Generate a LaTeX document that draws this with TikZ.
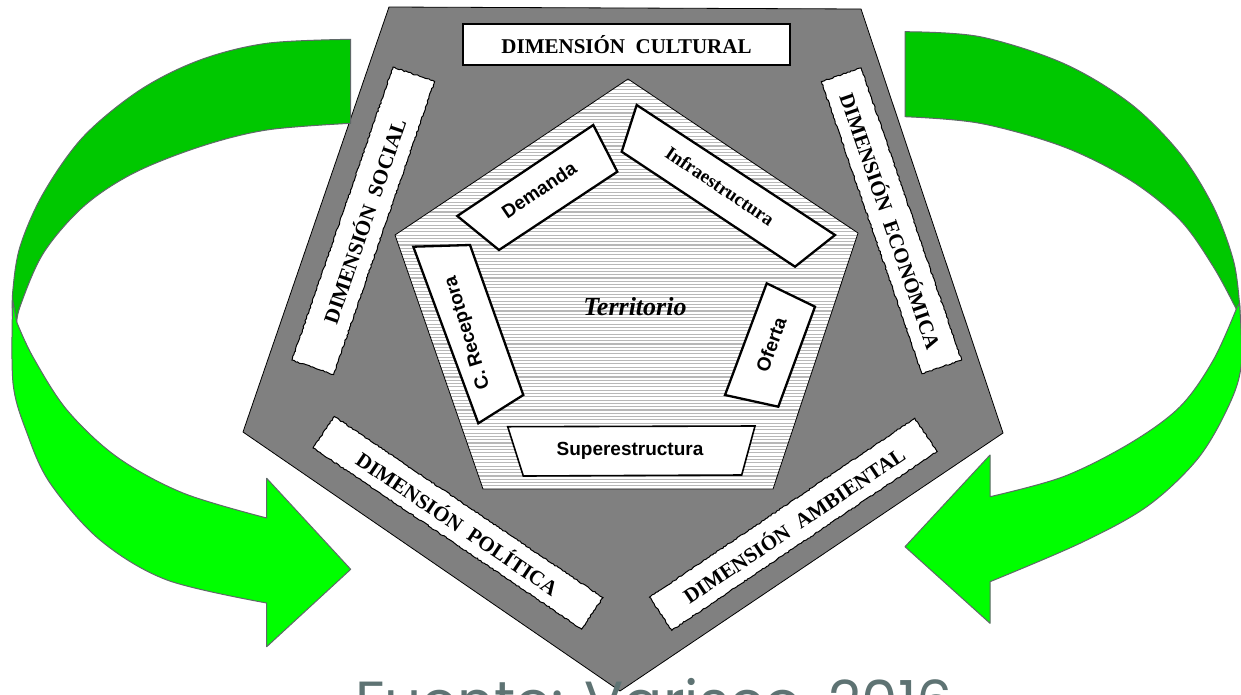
\documentclass[tikz,border=0pt]{standalone}
\usepackage{fontspec}
\setmainfont{Liberation Serif}
\newfontfamily\lsans{Liberation Sans}
\newfontfamily\popfont{Poppins}
\usetikzlibrary{decorations.pathmorphing}
\definecolor{pentgray}{HTML}{808080}
\definecolor{darkgreen}{HTML}{00C800}
\definecolor{brightgreen}{HTML}{00FF00}
\definecolor{arrowline}{HTML}{5F6868}
\definecolor{hatchgray}{HTML}{B8B8B8}
\definecolor{srccolor}{HTML}{5E7373}
\begin{document}
\begin{tikzpicture}[x=1pt,y=-1pt,
  band/.style={draw=arrowline, line width=1pt, line join=round},
  dimlabel/.style={fill=white, draw=black, line width=1pt, decorate,
    decoration={random steps, segment length=2pt, amplitude=0.6pt},
    inner sep=0pt, font=\fontsize{21}{21}\selectfont\bfseries},
  innerbox/.style={fill=white, draw=black, line width=2.3pt, line join=miter},
  innertext/.style={inner sep=0pt, font=\lsans\bfseries\fontsize{19}{19}\selectfont},
  hatch/.style={draw=hatchgray, line width=1.1pt}]
\useasboundingbox (0,0) rectangle (1241,694);
\fill[white] (0,0) rectangle (1241,694);

% outer gray pentagon
\draw[fill=pentgray, draw=black, line width=0.8pt, line join=miter]
  (389,7) -- (861,9) -- (1003,433) -- (620,691) -- (243,432) -- cycle;

% inner hatched pentagon
\fill[white] (628,79) -- (858,233) -- (773,489) -- (483,489) -- (395,235) -- cycle;
\begin{scope}
  \clip (628,79) -- (858,233) -- (773,489) -- (483,489) -- (395,235) -- cycle;
  \foreach \yy in {80,83.3,...,492} \draw[hatch] (390,\yy) -- (862,\yy);
\end{scope}
\draw[black, line width=0.8pt, line join=miter]
  (628,79) -- (858,233) -- (773,489) -- (483,489) -- (395,235) -- cycle;

% inner boxes
\draw[innerbox] (457.3,216) -- (593.3,125) -- (617.3,171.7) -- (499,250) -- cycle;
\draw[innerbox] (636.7,105) -- (835,235) -- (795,266.7) -- (621.7,151.7) -- cycle;
\draw[innerbox] (413.3,246.7) -- (470,245) -- (523.3,395) -- (478.3,423.3) -- cycle;
\draw[innerbox] (766.7,283.3) -- (815,306.7) -- (778.3,406.7) -- (725,395) -- cycle;
\draw[innerbox, line width=1.6pt] (507.7,426.7) -- (755,426) -- (741.7,475) -- (523.3,476) -- cycle;

\node[innertext, rotate=34] (demanda) at (539,190) {Demanda};
\node[innertext, rotate=-34, font=\bfseries\fontsize{19}{19}\selectfont] (infra) at (720,186) {Infraestructura};
\node[innertext, rotate=107] (receptora) at (468,333) {C. Receptora};
\node[innertext, rotate=70] (oferta) at (771,345) {Oferta};
\node[innertext] (supra) at (630,451) {Superestructura};
\node[inner sep=0pt, font=\bfseries\itshape\fontsize{26}{26}\selectfont] (territorio) at (635,307) {Territorio};

% outer dimension labels
\node[fill=white, draw=black, line width=1.8pt, inner sep=0pt, minimum width=327pt, minimum height=41pt,
  font=\fontsize{21}{21}\selectfont\bfseries] (cultural) at (626.5,44.5) {DIMENSIÓN\ \ CULTURAL};
\node[dimlabel, rotate=71, minimum width=310pt, minimum height=44pt] (social) at (363.3,220.8) {DIMENSIÓN\ \ SOCIAL};
\node[dimlabel, rotate=-71, minimum width=309pt, minimum height=42pt] (economica) at (891.5,220.8) {DIMENSIÓN\ \ ECONÓMICA};
\node[dimlabel, rotate=-34, minimum width=324pt, minimum height=38pt] (politica) at (458,522.8) {DIMENSIÓN\ \ POLÍTICA};
\node[dimlabel, rotate=34, minimum width=320pt, minimum height=40pt] (ambiental) at (793.3,524.3) {DIMENSIÓN\ \ AMBIENTAL};

% left arrow: dark upper band
\filldraw[band, fill=darkgreen]
  plot[smooth, tension=0.55] coordinates {(350.7,39.3) (266.7,43.3) (200,60) (140,90) (83.3,136.7) (43.3,193.3) (20,246.7) (12.7,292) (12.7,320)}
  -- plot[smooth, tension=0.55] coordinates {(16.7,326) (20,306.7) (43.3,253.3) (83.3,206.7) (133.3,173.3) (200,146.7) (266.7,130) (350.7,123.3)}
  -- cycle;
% left arrow: bright lower band with head
\filldraw[band, fill=brightgreen]
  plot[smooth, tension=0.55] coordinates {(12.7,300) (13,383) (27,433) (50,483) (100,540) (167,580) (266.7,603)}
  -- (266.7,646.7) -- (350.7,569.3) -- (266.7,478.3) -- (266.7,518)
  -- plot[smooth, tension=0.55] coordinates {(266.7,518) (183,493) (117,457) (67,410) (33,357) (16.7,322)}
  -- cycle;

% right arrow: dark upper band
\filldraw[band, fill=darkgreen]
  plot[smooth, tension=0.55] coordinates {(905,31.7) (980,36.7) (1063.3,63.3) (1130,103.3) (1180,153.3) (1213.3,206.7) (1233.3,260) (1239.5,303) (1239.5,315)}
  -- plot[smooth, tension=0.55] coordinates {(1236.7,310) (1213.3,266.7) (1180,220) (1130,180) (1063.3,146.7) (980,123.3) (905,116.7)}
  -- cycle;
% right arrow: bright lower band with head
\filldraw[band, fill=brightgreen]
  plot[smooth, tension=0.55] coordinates {(1239.5,303) (1241,366.7) (1226.7,410) (1196.7,460) (1146.7,506.7) (1080,543.3) (990,581.7)}
  -- (990,623.3) -- (905,546.7) -- (990,455) -- (990,496.7)
  -- plot[smooth, tension=0.55] coordinates {(990,496.7) (1063.3,476.7) (1130,443.3) (1180,406.7) (1213.3,360) (1236.7,308)}
  -- cycle;

% source line (cut off at the bottom)
\node[anchor=north west, inner sep=0pt, text=srccolor, font=\popfont\fontsize{58}{58}\selectfont] (fuente) at (355,678) {Fuente: Varisco, 2016};
\end{tikzpicture}
\end{document}
